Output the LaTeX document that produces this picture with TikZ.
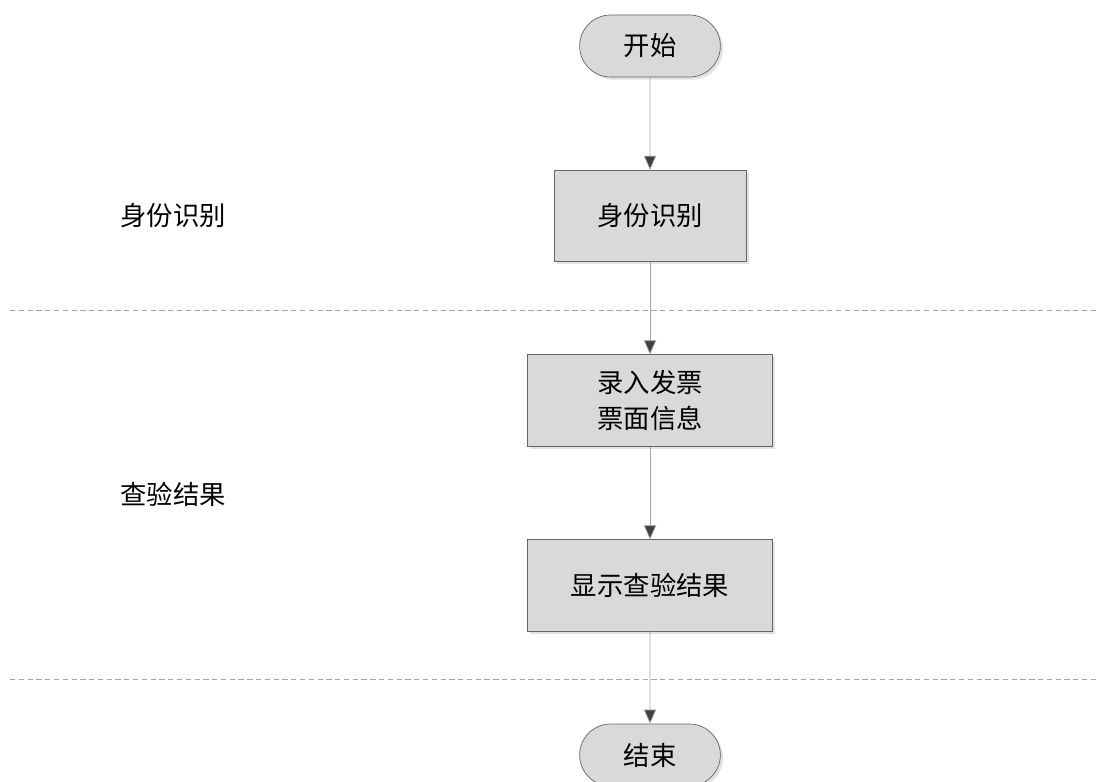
\documentclass[tikz,border=0pt]{standalone}
\usepackage{fontspec}
\newfontfamily\cjk{Noto Sans CJK SC}
\usepackage{tikz}
\usetikzlibrary{shapes,arrows.meta,positioning,shadows}

\tikzset{
  term/.style={draw=gray!80!black, fill=gray!30, rounded rectangle, minimum width=3.05cm, minimum height=1.24cm, drop shadow={shadow xshift=1.5pt, shadow yshift=-1.5pt, fill=gray!45}, font=\cjk\fontsize{15}{18}\selectfont},
  procbox/.style={draw=gray!80!black, fill=gray!30, rectangle, minimum height=1.83cm, align=center, drop shadow={shadow xshift=1.5pt, shadow yshift=-1.5pt, fill=gray!45}, font=\cjk\fontsize{15}{20}\selectfont},
  flow/.style={draw=gray!70, -{Triangle[length=8pt, width=7pt, fill=black!75]}},
  lane/.style={draw=gray!70, dashed, dash pattern=on 3pt off 2pt},
  lanelabel/.style={font=\cjk\fontsize{15}{18}\selectfont}
}

\begin{document}
\begin{tikzpicture}
    \useasboundingbox (0,0) rectangle (21.98,15.62);

    % Lanes
    \draw[lane] (0.2,9.42) -- (21.94,9.42);
    \draw[lane] (0.2,2.04) -- (21.94,2.04);
    \node[lanelabel] (lane1) at (3.46,11.3) {身份识别};
    \node[lanelabel] (lane2) at (3.46,5.74) {查验结果};

    % Flow
    \node[term] (start) at (13,14.7) {开始};
    \node[procbox, minimum width=3.84cm] (ident) at (13,11.3) {身份识别};
    \node[procbox, minimum width=4.9cm] (input) at (13,7.61) {录入发票\\票面信息};
    \node[procbox, minimum width=4.9cm] (show) at (13,3.91) {显示查验结果};
    \node[term] (stop) at (13,0.52) {结束};

    \draw[flow] (start) -- (ident);
    \draw[flow] (ident) -- (input);
    \draw[flow] (input) -- (show);
    \draw[flow] (show) -- (stop);
\end{tikzpicture}
\end{document}
